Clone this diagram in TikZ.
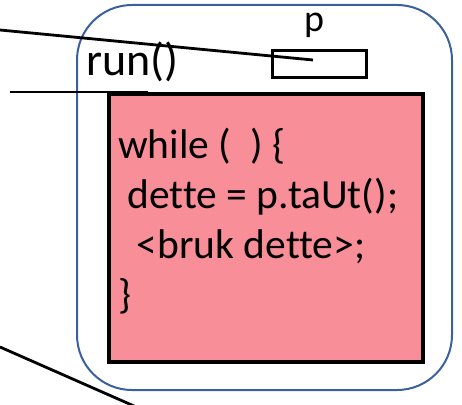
\documentclass[tikz,border=0pt]{standalone}
\usepackage{fontspec}
\setmainfont[Ligatures=NoCommon]{Carlito}
\definecolor{boxpink}{RGB}{248,142,152}
\definecolor{frameblue}{RGB}{60,95,160}
\begin{document}
\begin{tikzpicture}[x=1pt,y=-1pt,
  wire/.style={line width=2.8pt,black},
  codeline/.style={anchor=base west,inner sep=0pt,font=\fontsize{41.5}{48}\selectfont}]
\useasboundingbox (0,0) rectangle (462,404);
% thread object frame
\draw[frameblue,line width=2pt,rounded corners=55pt] (77,5) rectangle (452,390);
% run() body
\node[draw=black,line width=4pt,fill=boxpink,minimum width=314pt,minimum height=268pt,anchor=north west,inner sep=0pt] (body) at (107,92) {};
\node[codeline] (l1) at (118,158) {while (\ \ ) \{};
\node[codeline] (l2) at (118,208) {\ dette = p.taUt();};
\node[codeline] (l3) at (118,258) {\ \ <bruk dette>;};
\node[codeline] (l4) at (118,308) {\}};
\node[anchor=base west,inner sep=0pt,font=\fontsize{46}{50}\selectfont] (run) at (86,75) {run()};
% reference p
\node[draw=black,line width=3.2pt,minimum width=94pt,minimum height=27pt,anchor=north west,inner sep=0pt] (p) at (271,49) {};
\node[anchor=base,inner sep=0pt,font=\fontsize{38}{40}\selectfont] (plabel) at (314,31) {p};
% connectors
\coordinate (a1) at (0,30);
\coordinate (a2) at (313,60);
\coordinate (b1) at (10,92);
\coordinate (b2) at (148,92);
\coordinate (c1) at (0,347);
\coordinate (c2) at (134,406);
\draw[wire] (a1) -- (a2);
\draw[wire] (b1) -- (b2);
\draw[wire] (c1) -- (c2);
\end{tikzpicture}
\end{document}
